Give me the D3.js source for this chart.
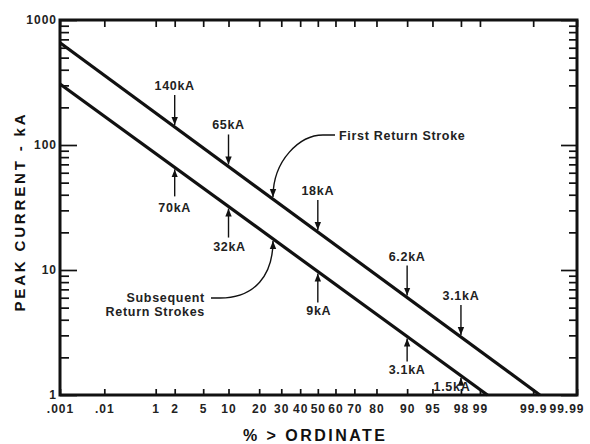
<!DOCTYPE html>
<html>
<head>
<meta charset="utf-8">
<script src="https://cdn.jsdelivr.net/npm/d3@7"></script>
<style>
  body { margin: 0; background: #fff; }
  text { font-family: "Liberation Sans", Arial, sans-serif; }
</style>
</head>
<body>
<script>
// probability axis (% > ordinate)
var percentTicks = [0.001, 0.01, 1, 2, 5, 10, 20, 30, 40, 50, 60, 70, 80, 90, 95, 98, 99, 99.9, 99.99];
var percentLabels = ['.001', '.01', '1', '2', '5', '10', '20', '30', '40', '50', '60', '70', '80', '90', '95', '98', '99', '99.9', '99.99'];

// peak current axis
var currentTicks = [1, 10, 100, 1000];
var currentLabels = ['1', '10', '100', '1000'];

// the two distribution lines (percent, kA)
var firstPct = [0.001, 99.928];
var firstKA = [657, 1];
var subsPct = [0.001, 99.255];
var subsKA = [308, 1];

// arrow annotations on each line
var firstMarkPct = [2, 10, 50, 90, 98];
var firstMarkText = ['140kA', '65kA', '18kA', '6.2kA', '3.1kA'];
var subsMarkPct = [2, 10, 50, 90, 98];
var subsMarkText = ['70kA', '32kA', '9kA', '3.1kA', '1.5kA'];

// callout anchor point (percent) for the curved leaders
var calloutPct = 26;

var width = 590, height = 444;
var left = 60, top_ = 20, right = 577, bottom = 395;
var plotW = right - left;

// inverse normal cdf (Acklam)
function probit(p) {
    var a = [-3.969683028665376e+01, 2.209460984245205e+02, -2.759285104469687e+02, 1.383577518672690e+02, -3.066479806614716e+01, 2.506628277459239e+00];
    var b = [-5.447609879822406e+01, 1.615858368580409e+02, -1.556989798598866e+02, 6.680131188771972e+01, -1.328068155288572e+01];
    var c = [-7.784894002430293e-03, -3.223964580411365e-01, -2.400758277161838e+00, -2.549732539343734e+00, 4.374664141464968e+00, 2.938163982698783e+00];
    var d = [7.784695709041462e-03, 3.224671290700398e-01, 2.445134137142996e+00, 3.754408661907416e+00];
    var pl = 0.02425, q, r;
    if (p < pl) {
        q = Math.sqrt(-2 * Math.log(p));
        return (((((c[0]*q+c[1])*q+c[2])*q+c[3])*q+c[4])*q+c[5]) / ((((d[0]*q+d[1])*q+d[2])*q+d[3])*q+1);
    }
    if (p > 1 - pl) {
        q = Math.sqrt(-2 * Math.log(1 - p));
        return -(((((c[0]*q+c[1])*q+c[2])*q+c[3])*q+c[4])*q+c[5]) / ((((d[0]*q+d[1])*q+d[2])*q+d[3])*q+1);
    }
    q = p - 0.5; r = q * q;
    return (((((a[0]*r+a[1])*r+a[2])*r+a[3])*r+a[4])*r+a[5])*q / (((((b[0]*r+b[1])*r+b[2])*r+b[3])*r+b[4])*r+1);
}
function z(pct) { return probit(pct / 100); }

// the chart's probability axis is compressed below 1%
var xz = d3.scaleLinear()
    .domain([z(0.001), z(0.01), z(1), z(99.99)])
    .range([left, left + 0.0857 * plotW, left + 0.1851 * plotW, right]);
function x(pct) { return xz(z(pct)); }

var y = d3.scaleLog().domain([1, 1000]).range([bottom, top_]);

var svg = d3.select('body').append('svg')
    .attr('width', width)
    .attr('height', height);

svg.append('defs').append('marker')
    .attr('id', 'head')
    .attr('viewBox', '0 -4 8 8')
    .attr('refX', 8).attr('refY', 0)
    .attr('markerWidth', 8).attr('markerHeight', 8)
    .attr('markerUnits', 'userSpaceOnUse')
    .attr('orient', 'auto')
    .append('path').attr('d', 'M0,-3.2L8,0L0,3.2Z').attr('fill', '#111');

// wrap x as a scale-like function for d3.axis
var xScale = function (v) { return x(v); };
xScale.domain = function () { return [0.001, 99.99]; };
xScale.range = function () { return [left, right]; };
xScale.copy = function () { return xScale; };
xScale.ticks = function () { return percentTicks; };
xScale.tickFormat = function () { return function (d) { return d; }; };

function styleAxis(g) {
    g.select('.domain').remove();
    g.selectAll('.tick line').attr('stroke', '#111').attr('stroke-width', 1.7);
    g.selectAll('.tick text')
        .attr('fill', '#222')
        .style('font-size', '12px')
        .style('font-weight', 'bold')
        .style('letter-spacing', '1px');
}

// x axes
svg.append('g')
    .attr('transform', 'translate(0,' + bottom + ')')
    .call(d3.axisBottom(xScale).tickValues(percentTicks)
        .tickFormat(function (d, i) { return percentLabels[i]; })
        .tickSizeInner(-6).tickSizeOuter(0).tickPadding(9))
    .call(styleAxis)
    .call(function (g) {
        g.selectAll('.tick text').filter(function (d) { return d === 99.99; })
            .attr('text-anchor', 'end').attr('x', 7);
    });

svg.append('g')
    .attr('transform', 'translate(0,' + top_ + ')')
    .call(d3.axisTop(xScale).tickValues(percentTicks)
        .tickFormat('').tickSizeInner(-7).tickSizeOuter(0))
    .call(styleAxis);

// y axes, major + minor
var minor = y.ticks().filter(function (d) { return currentTicks.indexOf(d) < 0; });

svg.append('g')
    .attr('transform', 'translate(' + left + ',0)')
    .call(d3.axisLeft(y).tickValues(currentTicks)
        .tickFormat(function (d, i) { return currentLabels[i]; })
        .tickSizeInner(-17).tickSizeOuter(0).tickPadding(3))
    .call(styleAxis);
svg.append('g')
    .attr('transform', 'translate(' + left + ',0)')
    .call(d3.axisLeft(y).tickValues(minor).tickFormat('').tickSizeInner(-9).tickSizeOuter(0))
    .call(styleAxis);
svg.append('g')
    .attr('transform', 'translate(' + right + ',0)')
    .call(d3.axisRight(y).tickValues(currentTicks).tickFormat('').tickSizeInner(-16).tickSizeOuter(0))
    .call(styleAxis);
svg.append('g')
    .attr('transform', 'translate(' + right + ',0)')
    .call(d3.axisRight(y).tickValues(minor).tickFormat('').tickSizeInner(-8).tickSizeOuter(0))
    .call(styleAxis);

// frame
svg.append('rect')
    .attr('x', left).attr('y', top_)
    .attr('width', plotW).attr('height', bottom - top_)
    .attr('fill', 'none').attr('stroke', '#111').attr('stroke-width', 3);

// distribution lines
var line = d3.line()
    .x(function (d) { return x(d[0]); })
    .y(function (d) { return y(d[1]); });

function drawSeries(pcts, kas) {
    svg.append('path')
        .datum(d3.zip(pcts, kas))
        .attr('d', line)
        .attr('fill', 'none')
        .attr('stroke', '#111')
        .attr('stroke-width', 3.2);
}
drawSeries(firstPct, firstKA);
drawSeries(subsPct, subsKA);

function lineYAt(pcts, kas, p) {
    var x0 = x(pcts[0]), x1 = x(pcts[1]);
    var y0 = y(kas[0]), y1 = y(kas[1]);
    return y0 + (y1 - y0) * (x(p) - x0) / (x1 - x0);
}

function label(tx, ty, str, anchor) {
    return svg.append('text')
        .attr('x', tx).attr('y', ty)
        .attr('text-anchor', anchor || 'middle')
        .attr('fill', '#222')
        .style('font-size', '12.5px')
        .style('font-weight', 'bold')
        .style('letter-spacing', '0.7px')
        .text(str);
}

function arrow(x1, y1, x2, y2) {
    svg.append('line')
        .attr('x1', x1).attr('y1', y1).attr('x2', x2).attr('y2', y2)
        .attr('stroke', '#111').attr('stroke-width', 1.4)
        .attr('marker-end', 'url(#head)');
}

// first return stroke markers (above the line, pointing down)
firstMarkPct.forEach(function (p, i) {
    var ax = x(p), ly = lineYAt(firstPct, firstKA, p);
    arrow(ax, ly - 32, ax, ly - 2);
    label(ax, ly - 37, firstMarkText[i]);
});

// subsequent stroke markers (below the line, pointing up)
var subsShaft = [29, 31, 31, 25, 8];
var subsText = [45, 44, 43, 37, 15];
var subsDx = [0, 1, 1, 0, -9];
subsMarkPct.forEach(function (p, i) {
    var ax = x(p), ly = lineYAt(subsPct, subsKA, p);
    arrow(ax, ly + subsShaft[i], ax, ly + 2);
    label(ax + subsDx[i], ly + subsText[i], subsMarkText[i]);
});

// curved callouts
function curve(d) {
    svg.append('path')
        .attr('d', d)
        .attr('fill', 'none')
        .attr('stroke', '#111')
        .attr('stroke-width', 1.4)
        .attr('marker-end', 'url(#head)');
}

var t1x = x(calloutPct), t1y = lineYAt(firstPct, firstKA, calloutPct) - 2;
curve('M335,135L323,135C300,135 ' + t1x + ',160 ' + t1x + ',' + t1y);
label(339, 140, 'First Return Stroke', 'start');

var t2x = x(calloutPct), t2y = lineYAt(subsPct, subsKA, calloutPct) + 2;
curve('M211,298L220,298C255,298 ' + t2x + ',275 ' + t2x + ',' + t2y);
label(205, 302, 'Subsequent', 'end');
label(205, 316, 'Return Strokes', 'end');

// axis titles
svg.append('text')
    .attr('transform', 'translate(25,213) rotate(-90)')
    .attr('text-anchor', 'middle')
    .attr('fill', '#111')
    .attr('textLength', 197)
    .attr('lengthAdjust', 'spacing')
    .style('font-size', '15px')
    .style('font-weight', 'bold')
    .text('PEAK CURRENT - kA');

svg.append('text')
    .attr('x', 314).attr('y', 441)
    .attr('text-anchor', 'middle')
    .attr('fill', '#111')
    .attr('textLength', 142)
    .attr('lengthAdjust', 'spacing')
    .style('font-size', '16px')
    .style('font-weight', 'bold')
    .text('% > ORDINATE');
</script>
</body>
</html>
